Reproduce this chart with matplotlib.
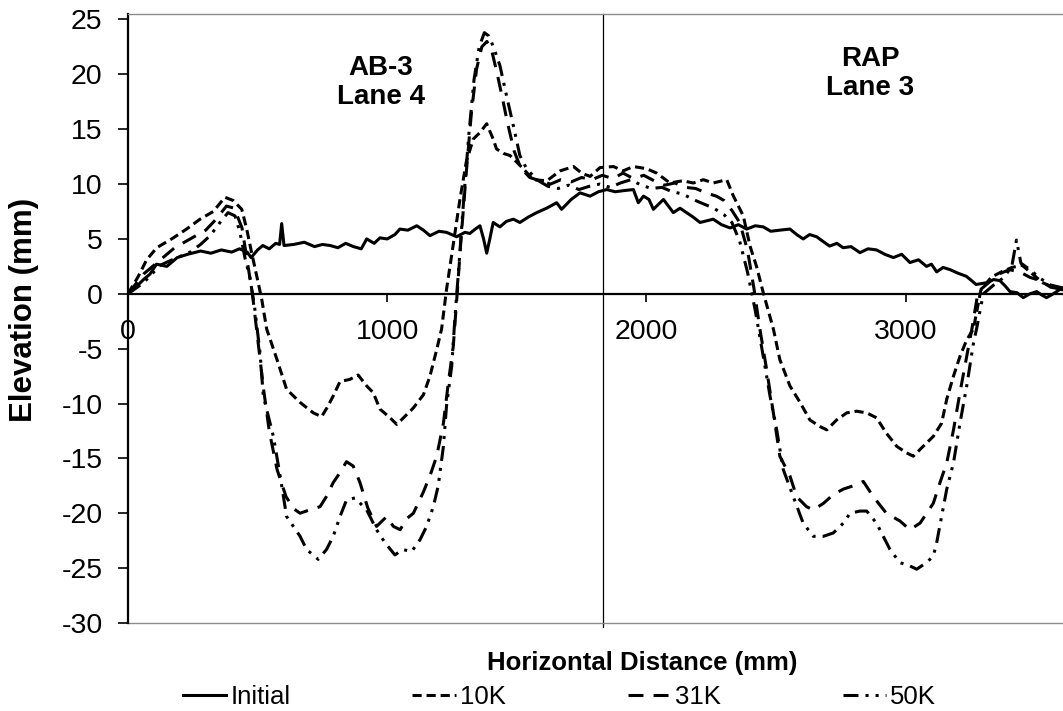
import matplotlib
matplotlib.use('Agg')
import matplotlib.pyplot as plt

plt.rcParams['font.family'] = ['Liberation Sans', 'DejaVu Sans']
plt.rcParams['axes.unicode_minus'] = False

# surface profiles (x in mm, elevation in mm)
init_x = [0, 30, 60, 85, 110, 150, 190, 230, 280, 320, 360, 400, 430, 460, 475, 500, 520, 545, 570, 585,
          593, 602, 640, 680, 720, 750, 780, 810, 840, 870, 900, 921, 950, 972, 1000, 1030, 1049, 1080, 1114,
          1140, 1165, 1200, 1229, 1268, 1300, 1319, 1340, 1358, 1372, 1384, 1396, 1409, 1435, 1460, 1487, 1512,
          1545, 1577, 1615, 1654, 1673, 1710, 1744, 1783, 1815, 1847, 1880, 1911, 1950, 1969, 1989, 2010, 2027,
          2066, 2104, 2130, 2155, 2180, 2207, 2258, 2290, 2323, 2355, 2387, 2420, 2451, 2480, 2515, 2554, 2580,
          2605, 2630, 2657, 2680, 2707, 2735, 2759, 2790, 2824, 2855, 2888, 2920, 2953, 2985, 3017, 3050, 3081,
          3100, 3120, 3145, 3172, 3200, 3234, 3255, 3272, 3311, 3340, 3364, 3385, 3403, 3430, 3454, 3480, 3506,
          3525, 3544, 3570, 3596, 3630]
init_y = [0, 0.6, 1.3, 1.8, 2.7, 2.5, 3.3, 3.6, 3.9, 3.7, 4.0, 3.8, 4.1, 3.8, 3.3, 4.0, 4.4, 4.1, 4.6, 4.5,
          6.4, 4.4, 4.5, 4.7, 4.3, 4.5, 4.4, 4.2, 4.6, 4.3, 4.1, 5.0, 4.6, 5.1, 5.0, 5.4, 5.9, 5.8, 6.2,
          5.8, 5.3, 5.7, 5.6, 5.2, 5.6, 5.5, 5.9, 6.2, 5.0, 3.7, 5.0, 6.5, 6.1, 6.6, 6.8, 6.5,
          7.0, 7.4, 7.8, 8.3, 7.7, 8.6, 9.2, 8.9, 9.3, 9.5, 9.3, 9.4, 9.5, 8.3, 8.9, 8.6, 7.7,
          8.6, 7.4, 7.8, 7.4, 7.0, 6.5, 6.8, 6.3, 6.0, 6.3, 5.9, 6.2, 6.1, 5.7, 5.8, 5.9, 5.4,
          5.0, 5.4, 5.2, 4.8, 4.35, 4.6, 4.2, 4.3, 3.75, 4.1, 4.0, 3.6, 3.3, 3.6, 2.85, 3.1, 2.5,
          2.7, 2.0, 2.4, 2.2, 1.9, 1.6, 1.2, 0.85, 1.0, 1.3, 1.2, 0.7, 0.2, 0.1, -0.35, 0.0, 0.2,
          -0.1, -0.35, 0.0, 0.4, 0.3]

k10_x = [0, 40, 72, 111, 175, 226, 278, 329, 374, 406, 439, 458, 477, 497, 516, 535, 575, 612, 664, 715,
         747, 770, 792, 818, 856, 888, 921, 946, 972, 1011, 1037, 1063, 1101, 1140, 1165, 1191, 1210, 1229,
         1255, 1280, 1305, 1332, 1358, 1384, 1409, 1422, 1448, 1474, 1500, 1525, 1564, 1616, 1667, 1719, 1750,
         1783, 1821, 1873, 1910, 1950, 2001, 2040, 2091, 2140, 2181, 2220, 2258, 2310, 2336, 2374, 2400, 2425,
         2451, 2470, 2490, 2515, 2554, 2593, 2631, 2670, 2696, 2734, 2773, 2811, 2850, 2888, 2926, 2966, 3004,
         3030, 3068, 3107, 3139, 3159, 3185, 3210, 3236, 3262, 3290, 3330, 3370, 3410, 3450, 3490, 3530, 3570,
         3630]
k10_y = [0, 1.6, 3.1, 4.2, 5.1, 5.9, 6.8, 7.5, 8.8, 8.5, 7.7, 5.9, 3.75, 1.6, -0.5, -3.2, -6.0, -8.7, -9.9, -10.85,
         -11.2, -10.3, -9.3, -8.0, -7.8, -7.4, -8.4, -9.0, -10.5, -11.3, -11.9, -11.3, -10.4, -9.2, -7.5, -5.1, -3.2, 0.4,
         4.5, 8.5, 12.0, 14.1, 14.7, 15.5, 14.1, 13.2, 12.8, 12.6, 12.0, 11.4, 10.4, 10.3, 11.2, 11.6, 11.0,
         10.7, 11.5, 11.6, 11.2, 11.6, 11.4, 11.0, 10.1, 10.3, 10.1, 10.4, 10.1, 10.4, 8.9, 7.1, 4.35, 2.5,
         0.1, -1.5, -3.2, -6.0, -8.4, -9.9, -11.5, -12.1, -12.4, -11.5, -10.85, -10.7, -10.85, -11.3, -12.7, -13.9, -14.5,
         -14.8, -13.9, -13.0, -11.8, -9.6, -7.5, -5.7, -4.2, -3.2, 0.3, 1.5, 2.0, 2.4, 2.6, 1.8, 1.0, 0.6,
         0.4]

k31_x = [0, 60, 120, 180, 240, 300, 340, 380, 410, 440, 460, 480, 500, 522, 545, 575, 610, 640, 664, 700,
         741, 765, 792, 818, 843, 869, 895, 925, 959, 998, 1024, 1050, 1075, 1101, 1139, 1165, 1191, 1217, 1236,
         1255, 1270, 1285, 1305, 1325, 1345, 1365, 1385, 1405, 1425, 1445, 1465, 1490, 1515, 1550, 1590, 1630,
         1670, 1710, 1750, 1790, 1830, 1870, 1910, 1950, 1990, 2030, 2070, 2110, 2150, 2190, 2230, 2270, 2300,
         2330, 2360, 2390, 2415, 2438, 2464, 2490, 2515, 2554, 2580, 2618, 2644, 2683, 2721, 2760, 2798, 2837,
         2876, 2926, 2978, 3017, 3056, 3107, 3133, 3159, 3185, 3210, 3236, 3256, 3280, 3320, 3360, 3400, 3440,
         3480, 3520, 3560, 3630]
k31_y = [0, 1.8, 3.0, 4.2, 5.0, 5.8, 6.8, 8.0, 7.8, 6.0, 3.0, 0.0, -4.0, -8.5, -12.5, -16.0, -18.5, -19.6, -20.0, -19.7,
         -19.4, -18.5, -17.2, -16.3, -15.3, -15.7, -17.2, -19.5, -21.2, -20.3, -21.2, -21.5, -20.5, -20.0, -18.1, -16.6, -14.8, -11.8, -8.1,
         -4.8, 0.0, 5.0, 11.0, 16.5, 20.5, 22.5, 23.0, 22.0, 20.0, 17.8, 15.5, 13.0, 11.5, 10.6, 10.3, 10.0,
         10.4, 10.2, 10.6, 10.4, 10.8, 10.5, 11.0, 10.5, 10.8, 10.3, 9.9, 10.1, 9.7, 9.6, 9.2, 8.9, 8.5,
         7.6, 6.5, 4.0, 0.5, -3.2, -6.9, -10.85, -14.8, -16.6, -18.5, -19.4, -19.7, -19.1, -18.3, -17.8, -17.5, -17.1,
         -18.5, -20.0, -20.7, -21.5, -20.9, -19.1, -17.2, -15.4, -12.4, -9.0, -5.7, -3.2, 0.2, 1.0, 1.8, 2.2, 2.0,
         1.5, 1.2, 0.6, 0.3]

k50_x = [0, 60, 124, 180, 240, 280, 317, 355, 386, 413, 432, 452, 471, 490, 510, 522, 561, 587, 612, 664,
         689, 734, 766, 792, 818, 843, 876, 921, 959, 992, 1030, 1060, 1094, 1127, 1152, 1178, 1197, 1217, 1229,
         1249, 1262, 1275, 1295, 1315, 1335, 1355, 1375, 1392, 1410, 1435, 1461, 1487, 1512, 1538, 1577, 1620,
         1660, 1700, 1740, 1780, 1820, 1860, 1900, 1940, 1980, 2020, 2060, 2100, 2140, 2180, 2220, 2260, 2300,
         2330, 2360, 2390, 2420, 2451, 2477, 2503, 2528, 2567, 2605, 2644, 2683, 2721, 2760, 2786, 2824, 2850,
         2888, 2914, 2940, 2978, 3017, 3043, 3081, 3107, 3120, 3139, 3159, 3185, 3210, 3236, 3262, 3274, 3300,
         3340, 3380, 3410, 3428, 3445, 3480, 3520, 3560, 3630]
k50_y = [0, 1.0, 2.6, 3.2, 3.8, 4.5, 5.3, 6.5, 7.4, 7.1, 5.6, 3.2, 1.4, -1.5, -5.5, -9.3, -13.0, -16.6, -20.3, -22.1,
         -23.3, -24.2, -23.3, -22.1, -20.3, -18.8, -18.6, -19.7, -21.5, -22.7, -23.8, -23.3, -23.5, -22.4, -21.2, -19.4, -17.5, -13.9, -10.2,
         -6.6, -2.0, 2.0, 8.5, 14.5, 19.5, 22.5, 23.8, 23.5, 22.5, 20.8, 18.0, 15.3, 12.6, 11.4, 10.4, 9.8,
         9.6, 9.9, 9.5, 9.8, 10.0, 9.7, 10.1, 10.4, 9.9, 9.6, 9.7, 9.3, 9.1, 8.6, 8.2, 7.8, 7.2,
         6.5, 4.8, 2.0, -1.5, -5.7, -9.3, -12.4, -16.0, -18.5, -20.9, -22.1, -22.1, -21.8, -20.9, -20.0, -19.8, -19.8,
         -20.9, -22.1, -23.3, -24.5, -24.8, -25.1, -24.5, -23.9, -22.7, -20.3, -17.8, -15.4, -11.8, -8.4, -4.5, -3.2, 0.0,
         0.8, 1.5, 2.5, 4.9, 2.8, 2.2, 1.4, 0.8, 0.4]

labels = ['Initial', '10K', '31K', '50K']
divider_x = 1833

fig = plt.figure(figsize=(10.63, 7.11), dpi=100)
# plot area runs past the right edge (the original chart is cropped there)
ax = fig.add_axes([0.1204, 0.1238, 0.9753, 0.8565])

lw = 2.2
l1, = ax.plot(init_x, init_y, color='black', lw=lw, linestyle='-')
l2, = ax.plot(k10_x, k10_y, color='black', lw=lw, linestyle=(0, (3.0, 1.6)))
l3, = ax.plot(k31_x, k31_y, color='black', lw=lw, linestyle=(0, (4.9, 3.3)))
l4, = ax.plot(k50_x, k50_y, color='black', lw=lw, linestyle=(0, (4.9, 2.3, 1.0, 2.3, 1.0, 2.3)))

ax.axvline(divider_x, ymin=-0.006, color='black', lw=0.9, clip_on=False)

ax.set_xlim(0, 4000)
ax.set_ylim(-30, 25.5)
ax.set_xticks([0, 1000, 2000, 3000])
ax.set_yticks(range(-30, 30, 5))

ax.spines['bottom'].set_position(('data', 0))
ax.spines['bottom'].set_linewidth(1.6)
ax.spines['left'].set_linewidth(1.6)
ax.spines['right'].set_visible(False)
ax.spines['top'].set_color('#8c8c8c')
ax.spines['top'].set_linewidth(1.0)
ax.axhline(-30, color='#8c8c8c', lw=1.0, clip_on=False)

ax.tick_params(axis='x', direction='out', length=6, width=1.2, pad=12, labelsize=20.5)
ax.tick_params(axis='y', direction='out', length=7.2, width=1.2, pad=11, labelsize=20.5)

ax.set_ylabel('Elevation (mm)', fontsize=22.5, fontweight='bold', va='center')
ax.yaxis.set_label_coords(-0.1003, 0.514)
ax.set_xlabel('Horizontal Distance (mm)', fontsize=18.5, fontweight='bold', va='center')
ax.xaxis.set_label_coords(0.4958, -0.0657)

ax.text(976, 19.3, 'AB-3\nLane 4', ha='center', va='center', fontsize=20, fontweight='bold', linespacing=1.15)
ax.text(2863, 20.1, 'RAP\nLane 3', ha='center', va='center', fontsize=20, fontweight='bold', linespacing=1.15)

fig.legend([l1, l2, l3, l4], labels, loc='center left', bbox_to_anchor=(183 / 1063., 1 - 697 / 711.),
           ncol=4, frameon=False, fontsize=18.5, handlelength=1.68, handletextpad=0.16,
           columnspacing=4.75, borderpad=0, borderaxespad=0)

plt.savefig('out.png', dpi=100)
